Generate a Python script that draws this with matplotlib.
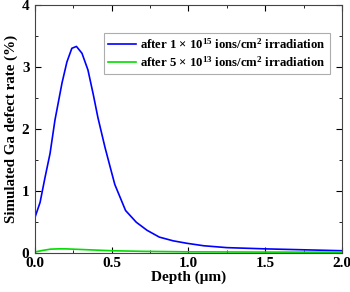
import matplotlib
matplotlib.use("Agg")
import matplotlib.pyplot as plt
from matplotlib.ticker import MultipleLocator

# Data
depth_hi = [0.0, 0.033, 0.065, 0.098, 0.13, 0.176, 0.208, 0.24, 0.27, 0.306,
            0.345, 0.38, 0.41, 0.456, 0.49, 0.52, 0.59, 0.66, 0.73, 0.81, 0.90,
            0.99, 1.1, 1.25, 1.5, 1.75, 2.0]
rate_hi = [0.57, 0.81, 1.21, 1.60, 2.14, 2.74, 3.08, 3.30, 3.33, 3.22,
           2.95, 2.55, 2.18, 1.70, 1.38, 1.10, 0.68, 0.49, 0.36, 0.25, 0.19,
           0.15, 0.11, 0.08, 0.06, 0.045, 0.03]

depth_lo = [0.0, 0.05, 0.1, 0.15, 0.2, 0.25, 0.3, 0.4, 0.5, 0.7, 1.0, 1.5, 2.0]
rate_lo = [0.01, 0.035, 0.055, 0.06, 0.06, 0.055, 0.05, 0.04, 0.03, 0.02,
           0.012, 0.008, 0.006]

labels = [r"after 1 $\times$ 10$^{\mathbf{15}}$ ions/cm$^{\mathbf{2}}$ irradiation",
          r"after 5 $\times$ 10$^{\mathbf{13}}$ ions/cm$^{\mathbf{2}}$ irradiation"]

plt.rcParams['font.family'] = ['Liberation Serif', 'DejaVu Serif']
plt.rcParams['font.weight'] = 'bold'
plt.rcParams['mathtext.fontset'] = 'custom'
plt.rcParams['mathtext.rm'] = 'Liberation Serif:bold'
plt.rcParams['mathtext.bf'] = 'Liberation Serif:bold'
plt.rcParams['mathtext.it'] = 'Liberation Serif:bold'

fig = plt.figure(figsize=(3.5, 2.92), dpi=100)
ax = fig.add_axes([0.1, 0.135, 0.877, 0.848])

ax.plot(depth_hi, rate_hi, color='#0000ff', lw=1.2, label=labels[0])
ax.plot(depth_lo, rate_lo, color='#00dd00', lw=1.2, label=labels[1])

ax.set_xlim(0, 2.0)
ax.set_ylim(0, 4)
ax.set_xticks([0, 0.5, 1.0, 1.5, 2.0])
ax.set_xticklabels(['0.0', '0.5', '1.0', '1.5', '2.0'], fontsize=11, fontweight='bold')
ax.set_yticks([0, 1, 2, 3, 4])
ax.set_yticklabels(['0', '1', '2', '3', '4'], fontsize=11, fontweight='bold')
ax.xaxis.set_minor_locator(MultipleLocator(0.25))
ax.yaxis.set_minor_locator(MultipleLocator(0.5))
ax.tick_params(which='both', direction='in', top=True, right=True)
ax.tick_params(which='major', length=4)
ax.tick_params(which='minor', length=2)
ax.tick_params(axis='x', pad=3.5)
ax.tick_params(axis='y', pad=4)
for s in ax.spines.values():
    s.set_color('#444444')

ax.set_xlabel("Depth (\u03bcm)", fontsize=11, fontweight='bold', labelpad=0)
ax.set_ylabel("Simulated Ga defect rate (%)", fontsize=10.8, fontweight='bold', labelpad=3)

leg = ax.legend(loc='upper right', bbox_to_anchor=(0.96, 0.885), fontsize=9.2,
                frameon=True, fancybox=False, edgecolor='#999999',
                handlelength=2.2, handletextpad=0.3, borderpad=0.3,
                labelspacing=0.25, borderaxespad=0)
leg.get_frame().set_linewidth(0.8)

fig.savefig("out.png", dpi=100)
